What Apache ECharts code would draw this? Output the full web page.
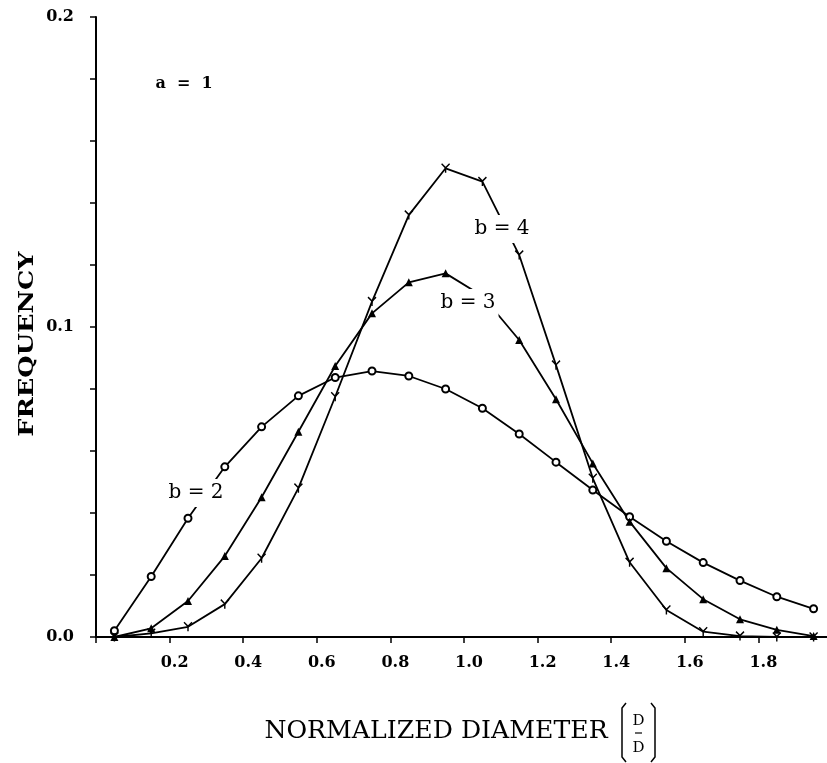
<!DOCTYPE html>
<html>
<head>
<meta charset="utf-8">
<script src="https://cdn.jsdelivr.net/npm/echarts@6/dist/echarts.min.js"></script>
<style>
html,body{margin:0;padding:0;background:#fff;}
#chart{width:827px;height:763px;}
</style>
</head>
<body>
<div id="chart"></div>
<script>
// Normalized diameter (bin centres)
var diameters = [0.05, 0.15, 0.25, 0.35, 0.45, 0.55, 0.65, 0.75, 0.85, 0.95,
                 1.05, 1.15, 1.25, 1.35, 1.45, 1.55, 1.65, 1.75, 1.85, 1.95];
// Frequency, a = 1
var freqB2 = [0.0020, 0.0195, 0.0383, 0.0549, 0.0678, 0.0778, 0.0837, 0.0858, 0.0842, 0.0800,
              0.0738, 0.0655, 0.0564, 0.0474, 0.0388, 0.0309, 0.0240, 0.0182, 0.0130, 0.0091];
var freqB3 = [0.0000, 0.0028, 0.0116, 0.0261, 0.0451, 0.0662, 0.0874, 0.1044, 0.1144, 0.1173,
              0.1100, 0.0958, 0.0767, 0.0560, 0.0372, 0.0222, 0.0122, 0.0057, 0.0023, 0.0003];
var freqB4 = [0.0000, 0.0012, 0.0033, 0.0106, 0.0254, 0.0480, 0.0775, 0.1082, 0.1361, 0.1512,
              0.1469, 0.1232, 0.0877, 0.0512, 0.0241, 0.0087, 0.0017, 0.0003, 0.0000, 0.0000];
var yLabels = ['0.0', '0.1', '0.2'];
var xTitle = 'NORMALIZED DIAMETER';
var yTitle = 'FREQUENCY';

function pairs(ys) { return diameters.map(function (x, i) { return [x, ys[i]]; }); }

var SERIF = '"DejaVu Serif", "Liberation Serif", serif';
var chart = echarts.init(document.getElementById('chart'), null, {renderer: 'canvas'});

var lineBase = {
  type: 'line', smooth: false, animation: false, silent: true,
  lineStyle: {color: '#000', width: 1.8},
  emphasis: {disabled: true}
};

var option = {
  backgroundColor: '#fff',
  animation: false,
  grid: {left: 96, right: -5, top: 17, bottom: 126, containLabel: false, outerBoundsMode: 'none'},
  xAxis: [{
    type: 'value', min: 0, max: 2, interval: 0.2,
    axisLine: {show: true, onZero: false, lineStyle: {color: '#000', width: 2}},
    axisTick: {show: true, length: 6, lineStyle: {color: '#000', width: 1.5}},
    splitLine: {show: false},
    axisLabel: {
      margin: 18, color: '#000', fontFamily: SERIF, fontWeight: 'bold', fontSize: 16,
      padding: [0, 0, 0, 10],
      formatter: function (v) { return (v < 0.1 || v > 1.9) ? '' : v.toFixed(1); }
    }
  }, {
    type: 'value', min: 0, max: 2, position: 'top',
    axisLine: {show: true, lineStyle: {color: '#000', width: 2}},
    axisTick: {show: false}, axisLabel: {show: false}, splitLine: {show: false}
  }],
  yAxis: {
    type: 'value', min: 0, max: 0.2, interval: 0.02,
    axisLine: {show: true, lineStyle: {color: '#000', width: 2}},
    axisTick: {show: true, length: 6, lineStyle: {color: '#000', width: 1.5}},
    splitLine: {show: false},
    axisLabel: {
      margin: 22, color: '#000', fontFamily: SERIF, fontWeight: 'bold', fontSize: 16,
      formatter: function (v) {
        var k = Math.round(v * 10);
        return Math.abs(v * 10 - k) < 1e-6 ? yLabels[k] : '';
      }
    }
  },
  series: [
    Object.assign({}, lineBase, {
      name: 'b = 2', data: pairs(freqB2),
      symbol: 'emptyCircle', symbolSize: 7,
      itemStyle: {color: '#000', borderWidth: 2.5}
    }),
    Object.assign({}, lineBase, {
      name: 'b = 3', data: pairs(freqB3),
      symbol: 'triangle', symbolSize: 8,
      itemStyle: {color: '#000'}
    }),
    Object.assign({}, lineBase, {
      name: 'b = 4', data: pairs(freqB4),
      symbol: 'path://M0,0L5,5L10,0M5,5L5,11', symbolSize: [8, 9],
      itemStyle: {color: 'rgba(0,0,0,0)', borderColor: '#000', borderWidth: 1.5}
    })
  ],
  graphic: [
    {type: 'text', z: 100, x: 184, y: 84,
     style: {text: 'a  =  1', font: 'bold 16px ' + SERIF, fill: '#000', align: 'center', verticalAlign: 'middle'}},
    {type: 'text', z: 100, x: 502, y: 229,
     style: {text: 'b = 4', font: '20px ' + SERIF, fill: '#000', align: 'center', verticalAlign: 'middle',
             backgroundColor: '#fff', padding: [4, 3]}},
    {type: 'text', z: 100, x: 468, y: 303,
     style: {text: 'b = 3', font: '20px ' + SERIF, fill: '#000', align: 'center', verticalAlign: 'middle',
             backgroundColor: '#fff', padding: [4, 3]}},
    {type: 'text', z: 100, x: 196, y: 493,
     style: {text: 'b = 2', font: '20px ' + SERIF, fill: '#000', align: 'center', verticalAlign: 'middle',
             backgroundColor: '#fff', padding: [4, 3]}},
    {type: 'text', z: 100, x: 28, y: 344, rotation: Math.PI / 2, scaleX: 1.22,
     style: {text: yTitle, font: 'bold 21px ' + SERIF, fill: '#000', align: 'center', verticalAlign: 'middle'}},
    {type: 'text', z: 100, x: 436, y: 732, scaleX: 1.05,
     style: {text: xTitle, font: '24px ' + SERIF, fill: '#000', align: 'center', verticalAlign: 'middle'}},
    {type: 'polyline', z: 100, shape: {points: [[626, 703], [622, 708], [622, 757], [626, 762]]},
     style: {stroke: '#000', lineWidth: 1.5, fill: null}},
    {type: 'polyline', z: 100, shape: {points: [[651, 703], [655, 708], [655, 757], [651, 762]]},
     style: {stroke: '#000', lineWidth: 1.5, fill: null}},
    {type: 'text', z: 100, x: 638.5, y: 721,
     style: {text: 'D', font: '15px ' + SERIF, fill: '#000', align: 'center', verticalAlign: 'middle'}},
    {type: 'line', z: 100, shape: {x1: 635, y1: 733, x2: 642, y2: 733},
     style: {stroke: '#000', lineWidth: 1.2}},
    {type: 'text', z: 100, x: 638.5, y: 748,
     style: {text: 'D', font: '15px ' + SERIF, fill: '#000', align: 'center', verticalAlign: 'middle'}}
  ]
};
chart.setOption(option);
</script>
</body>
</html>
